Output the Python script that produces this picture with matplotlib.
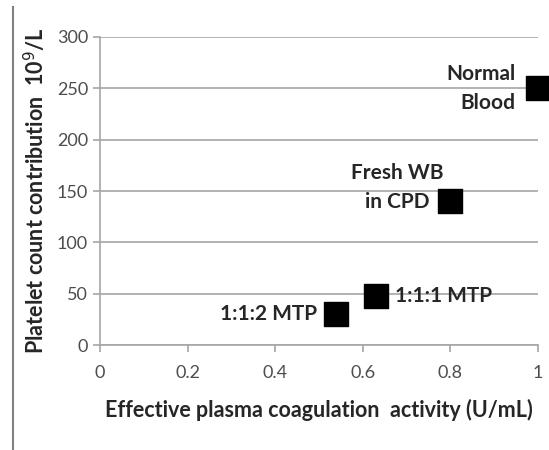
import matplotlib.pyplot as plt

# data
labels = ["Normal\nBlood", "Fresh WB\nin CPD", "1:1:1 MTP", "1:1:2 MTP"]
plasma_activity = [1.0, 0.8, 0.63, 0.54]
platelet_count = [250, 140, 48, 30]

plt.rcParams["font.family"] = ["Lato", "DejaVu Sans"]

fig = plt.figure(figsize=(5.49, 4.5), dpi=100)
ax = fig.add_axes([0.182, 0.233, 0.798, 0.685])

ax.scatter(plasma_activity, platelet_count, marker="s", s=280, color="black",
           zorder=3, clip_on=False)

ax.set_xlim(0, 1)
ax.set_ylim(0, 300)
ax.set_xticks([0, 0.2, 0.4, 0.6, 0.8, 1])
ax.set_xticklabels(["0", "0.2", "0.4", "0.6", "0.8", "1"])
ax.set_yticks(range(0, 301, 50))

ax.grid(axis="y", color="#a6a6a6", linewidth=1.2)
ax.set_axisbelow(True)
for side in ["top", "right"]:
    ax.spines[side].set_visible(False)
for side in ["left", "bottom"]:
    ax.spines[side].set_color("#a6a6a6")
    ax.spines[side].set_linewidth(1.2)
ax.tick_params(axis="both", colors="#a6a6a6", labelcolor="#4d4d4d",
               labelsize=13, length=5, width=1.2)
ax.tick_params(axis="x", pad=9)

ax.set_xlabel("Effective plasma coagulation  activity (U/mL)", fontsize=15.5,
              fontweight="bold", color="#262626", labelpad=13)
ax.set_ylabel("Platelet count contribution  10$^9$/L", fontsize=15.5,
              fontweight="bold", color="#262626", labelpad=6)

# point labels
offsets = [(-16, 0), (-38, 10), (14, 0), (-14, 0)]
aligns = ["right", "center", "left", "right"]
for lab, x, y, off, ha in zip(labels, plasma_activity, platelet_count,
                              offsets, aligns):
    ax.annotate(lab, (x, y), xytext=off, textcoords="offset points",
                ha=ha, va="center", fontsize=15, fontweight="bold",
                color="#262626", linespacing=1.55,
                multialignment="right" if ha == "right" else "center")

# left border line from the original figure
fig.add_artist(plt.Line2D([0.024, 0.024], [0.0, 0.985], color="#808080",
                          linewidth=1.5))

fig.savefig("out.png", dpi=100)
